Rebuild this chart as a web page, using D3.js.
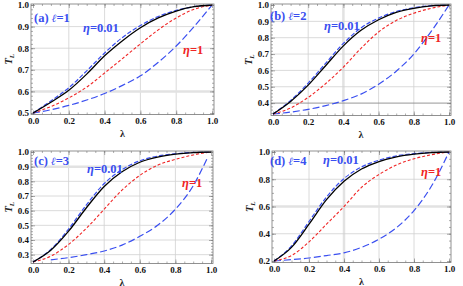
<!DOCTYPE html>
<html>
<head>
<meta charset="utf-8">
<script src="https://cdn.jsdelivr.net/npm/d3@7"></script>
<style>
  body { margin: 0; background: #fff; }
  svg { display: block; }
  svg text { font-family: "Liberation Serif", "Times New Roman", Times, serif; font-weight: bold; }
</style>
</head>
<body>
<div id="chart"></div>
<script>
// lambda samples
const lambda = [0, 0.1, 0.2, 0.3, 0.4, 0.5, 0.6, 0.7, 0.8, 0.9, 1.0];
const lambdaLowC = [0.1, 0.2, 0.3, 0.4, 0.5, 0.6, 0.7, 0.8, 0.9, 0.98];

// (a) l = 1
const blackA = [0.5, 0.55, 0.605, 0.68, 0.765, 0.835, 0.895, 0.94, 0.972, 0.992, 1.0];
const blueA = [0.5, 0.556, 0.617, 0.695, 0.778, 0.85, 0.905, 0.947, 0.975, 0.993, 1.0];
const redA = [0.5, 0.53, 0.57, 0.62, 0.685, 0.752, 0.82, 0.885, 0.94, 0.98, 1.0];
const lowA = [0.5, 0.515, 0.535, 0.56, 0.59, 0.628, 0.672, 0.735, 0.81, 0.9, 1.0];

// (b) l = 2
const blackB = [0.333, 0.41, 0.51, 0.63, 0.75, 0.845, 0.91, 0.955, 0.98, 0.995, 1.0];
const blueB = [0.333, 0.416, 0.522, 0.645, 0.765, 0.86, 0.92, 0.96, 0.983, 0.996, 1.0];
const redB = [0.333, 0.37, 0.435, 0.52, 0.62, 0.735, 0.835, 0.905, 0.95, 0.98, 1.0];
const lowB = [0.333, 0.345, 0.362, 0.385, 0.415, 0.455, 0.515, 0.595, 0.7, 0.84, 1.0];

// (c) l = 3
const blackC = [0.25, 0.33, 0.46, 0.62, 0.765, 0.865, 0.93, 0.965, 0.985, 0.996, 1.0];
const blueC = [0.25, 0.336, 0.475, 0.64, 0.785, 0.88, 0.94, 0.972, 0.988, 0.997, 1.0];
const redC = [0.25, 0.29, 0.37, 0.48, 0.61, 0.74, 0.84, 0.91, 0.95, 0.98, 1.0];
const lowC = [0.265, 0.28, 0.3, 0.325, 0.365, 0.425, 0.5, 0.61, 0.77, 0.96];

// (d) l = 4
const blackD = [0.2, 0.3, 0.47, 0.65, 0.785, 0.875, 0.93, 0.965, 0.985, 0.996, 1.0];
const blueD = [0.2, 0.31, 0.49, 0.67, 0.805, 0.89, 0.94, 0.972, 0.988, 0.997, 1.0];
const redD = [0.2, 0.24, 0.34, 0.47, 0.6, 0.74, 0.835, 0.905, 0.95, 0.98, 1.0];
const lowD = [0.2, 0.21, 0.222, 0.24, 0.26, 0.3, 0.36, 0.445, 0.57, 0.75, 1.0];

const xTicks = [0, 0.2, 0.4, 0.6, 0.8, 1.0];
const yTicksA = [0.5, 0.6, 0.7, 0.8, 0.9, 1.0];
const yTicksB = [0.4, 0.5, 0.6, 0.7, 0.8, 0.9, 1.0];
const yTicksC = [0.3, 0.4, 0.5, 0.6, 0.7, 0.8, 0.9, 1.0];
const yTicksD = [0.2, 0.4, 0.6, 0.8, 1.0];

// grid lines that show up heavier in the picture
const heavyYA = [0.6], heavyXA = [];
const heavyYB = [], heavyXB = [0.4];
const heavyYC = [0.9], heavyXC = [];
const heavyYD = [0.6], heavyXD = [0.4];
const darkYB = [0.4];

const panelTags = ["(a)", "(b)", "(c)", "(d)"];
const ells = [1, 2, 3, 4];
const yMins = [0.5, 1 / 3, 0.25, 0.2];

const BLUE = "#3a4ff0", RED = "#f02626";
const SERIF = "Liberation Serif, Times New Roman, Times, serif";

const panels = [
  { tag: panelTags[0], ell: ells[0], ymin: yMins[0], yTicks: yTicksA, minor: 0.02,
    heavyX: heavyXA, heavyY: heavyYA, darkY: [],
    box: [33, 212, 5, 113], lab: [34, 22], eta1: [83, 32], eta2: [183, 54],
    curves: [[lambda, lowA], [lambda, redA], [lambda, blueA], [lambda, blackA]] },
  { tag: panelTags[1], ell: ells[1], ymin: yMins[1], yTicks: yTicksB, minor: 0.02,
    heavyX: heavyXB, heavyY: heavyYB, darkY: darkYB,
    box: [273, 449, 5, 114], lab: [270, 20], eta1: [324, 30], eta2: [421, 42],
    curves: [[lambda, lowB], [lambda, redB], [lambda, blueB], [lambda, blackB]] },
  { tag: panelTags[2], ell: ells[2], ymin: yMins[2], yTicks: yTicksC, minor: 0.02,
    heavyX: heavyXC, heavyY: heavyYC, darkY: [],
    box: [33, 211, 152, 262], lab: [34, 165], eta1: [87, 173], eta2: [182, 187],
    curves: [[lambdaLowC, lowC], [lambda, redC], [lambda, blueC], [lambda, blackC]] },
  { tag: panelTags[3], ell: ells[3], ymin: yMins[3], yTicks: yTicksD, minor: 0.05,
    heavyX: heavyXD, heavyY: heavyYD, darkY: [],
    box: [274, 449, 152, 261], lab: [270, 165], eta1: [323, 164], eta2: [421, 176],
    curves: [[lambda, lowD], [lambda, redD], [lambda, blueD], [lambda, blackD]] }
];

const styles = [
  { stroke: BLUE, width: 1.2, dash: "7,3" },
  { stroke: RED, width: 1.1, dash: "3,2" },
  { stroke: BLUE, width: 1.2, dash: "4.5,2" },
  { stroke: "#000", width: 1.3, dash: null }
];

const svg = d3.select("#chart").append("svg").attr("width", 463).attr("height", 286);

panels.forEach((p) => {
  const [x0, x1, yt, yb] = p.box;
  const x = d3.scaleLinear().domain([0, 1]).range([x0, x1]);
  const y = d3.scaleLinear().domain([p.ymin, 1]).range([yb, yt]);
  const fl = x0 - 2, fr = x1 + 2, ft = yt - 1, fb = yb + 1.5;
  const g = svg.append("g");

  // grid
  const inY = p.yTicks.filter((d) => d > p.ymin + 1e-6 && d < 1);
  g.selectAll(".gx").data(xTicks.slice(1, -1)).join("line")
    .attr("x1", (d) => x(d)).attr("x2", (d) => x(d)).attr("y1", ft).attr("y2", fb)
    .attr("stroke", (d) => p.heavyX.includes(d) ? "#e2e2e2" : "#d0d0d0")
    .attr("stroke-width", (d) => p.heavyX.includes(d) ? 2.5 : 0.8);
  g.selectAll(".gy").data(inY).join("line")
    .attr("x1", fl).attr("x2", fr).attr("y1", (d) => y(d)).attr("y2", (d) => y(d))
    .attr("stroke", (d) => p.darkY.includes(d) ? "#8a8a8a" : p.heavyY.includes(d) ? "#e2e2e2" : "#d0d0d0")
    .attr("stroke-width", (d) => p.darkY.includes(d) ? 0.9 : p.heavyY.includes(d) ? 2.5 : 0.8);

  // minor ticks
  const minorX = d3.range(0, 1.0001, 0.05);
  const minorY = d3.range(Math.ceil(p.ymin / p.minor - 1e-6) * p.minor, 1.0001, p.minor);

  const axB = d3.axisBottom(x).tickValues(xTicks).tickSize(-4).tickPadding(3).tickFormat(d3.format(".1f"));
  const axT = d3.axisTop(x).tickValues(xTicks).tickSize(-4).tickFormat("");
  const axL = d3.axisLeft(y).tickValues(p.yTicks).tickSize(-4).tickPadding(2).tickFormat(d3.format(".1f"));
  const axR = d3.axisRight(y).tickValues(p.yTicks).tickSize(-4).tickFormat("");
  const mB = d3.axisBottom(x).tickValues(minorX).tickSize(-2).tickFormat("");
  const mT = d3.axisTop(x).tickValues(minorX).tickSize(-2).tickFormat("");
  const mL = d3.axisLeft(y).tickValues(minorY).tickSize(-2).tickFormat("");
  const mR = d3.axisRight(y).tickValues(minorY).tickSize(-2).tickFormat("");

  const addAxis = (ax, tx, ty) => {
    const a = g.append("g").attr("transform", `translate(${tx},${ty})`).call(ax);
    a.select(".domain").remove();
    a.selectAll("line").attr("stroke", "#777").attr("stroke-width", 0.6);
    a.selectAll("text").attr("font-size", 9).attr("fill", "#111")
      .attr("font-family", SERIF).attr("font-weight", "bold");
    return a;
  };
  addAxis(mB, 0, fb); addAxis(mT, 0, ft); addAxis(mL, fl, 0); addAxis(mR, fr, 0);
  addAxis(axB, 0, fb); addAxis(axT, 0, ft); addAxis(axL, fl, 0); addAxis(axR, fr, 0);

  // curves
  const line = d3.line().x((d) => x(d[0])).y((d) => y(d[1])).curve(d3.curveMonotoneX);
  p.curves.forEach((c, i) => {
    const pts = c[0].map((l, k) => [l, c[1][k]]);
    const s = styles[i];
    g.append("path").attr("d", line(pts)).attr("fill", "none")
      .attr("stroke", s.stroke).attr("stroke-width", s.width)
      .attr("stroke-dasharray", s.dash);
  });

  // frame
  g.append("rect").attr("x", fl).attr("y", ft).attr("width", fr - fl).attr("height", fb - ft)
    .attr("fill", "none").attr("stroke", "#777").attr("stroke-width", 0.8);

  // axis titles
  const cx = (fl + fr) / 2, cy = (ft + fb) / 2;
  g.append("text").attr("x", cx).attr("y", fb + 22).attr("text-anchor", "middle")
    .attr("font-family", SERIF).attr("font-size", 10).attr("fill", "#222").text("λ");
  const yl = g.append("text").attr("transform", `translate(${fl - 19},${cy}) rotate(-90)`)
    .attr("text-anchor", "middle").attr("font-family", SERIF).attr("font-size", 10.5).attr("fill", "#222");
  yl.append("tspan").attr("font-style", "italic").text("T");
  yl.append("tspan").attr("font-style", "italic").attr("font-size", 7).attr("dy", 2).text("L");

  // labels
  const lab = g.append("text").attr("x", p.lab[0]).attr("y", p.lab[1])
    .attr("font-family", SERIF).attr("font-size", 12.5).attr("fill", BLUE);
  lab.append("tspan").text(p.tag + " ");
  lab.append("tspan").attr("font-style", "italic").attr("font-family", "DejaVu Serif, serif")
    .attr("font-size", 11).text("ℓ");
  lab.append("tspan").text("=" + p.ell);

  const e1 = g.append("text").attr("x", p.eta1[0]).attr("y", p.eta1[1]).attr("font-size", 12.5)
    .attr("font-family", SERIF).attr("fill", BLUE);
  e1.append("tspan").attr("font-style", "italic").text("η");
  e1.append("tspan").text("=0.01");
  const e2 = g.append("text").attr("x", p.eta2[0]).attr("y", p.eta2[1]).attr("font-size", 12.5)
    .attr("font-family", SERIF).attr("fill", RED);
  e2.append("tspan").attr("font-style", "italic").text("η");
  e2.append("tspan").text("=1");
});
</script>
</body>
</html>
